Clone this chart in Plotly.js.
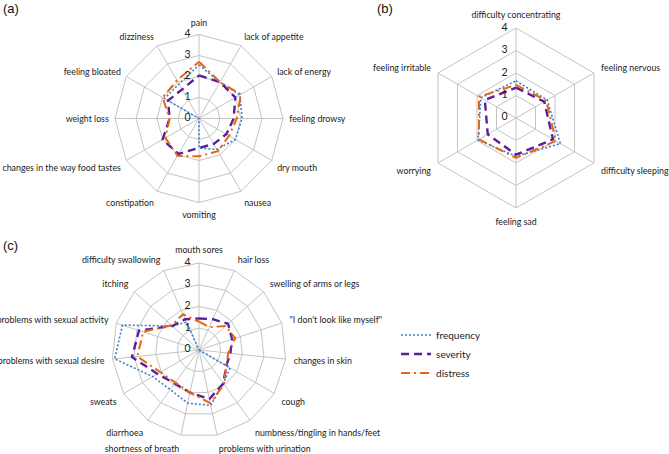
<!DOCTYPE html>
<html>
<head>
<meta charset="utf-8">
<script src="https://cdn.plot.ly/plotly-3.0.1.min.js"></script>
<style>html,body{margin:0;padding:0;background:#fff;}#chart{width:669px;height:454px;}</style>
</head>
<body>
<div id="chart"></div>
<script>
// ---- data ----
const seriesNames = ["frequency", "severity", "distress"];

const catA = ["pain", "lack of appetite", "lack of energy", "feeling drowsy", "dry mouth", "nausea",
  "vomiting", "constipation", "changes in the way food tastes", "weight loss", "feeling bloated", "dizziness"];
const freqA = [2.55, 2.0, 2.25, 2.05, 2.0, 1.7, 1.4, 0, 0, 0, 1.9, 1.9];
const sevA  = [2.05, 2.0, 2.0, 1.65, 1.5, 1.4, 1.4, 1.95, 2.0, 1.4, 1.7, 1.6];
const distA = [2.7, 2.0, 2.3, 1.8, 1.65, 1.8, 1.8, 2.05, 1.85, 1.4, 2.0, 2.1];

const catB = ["difficulty concentrating", "feeling nervous", "difficulty sleeping", "feeling sad", "worrying", "feeling irritable"];
const freqB = [1.65, 1.6, 2.28, 1.7, 1.95, 1.8];
const sevB  = [1.35, 1.45, 1.9, 1.63, 1.45, 1.6];
const distB = [1.47, 1.55, 2.05, 1.77, 1.9, 1.9];

const catC = ["mouth sores", "hair loss", "swelling of arms or legs", "\"I don't look like myself\"", "changes in skin",
  "cough", "numbness/tingling in hands/feet", "problems with urination", "shortness of breath", "diarrhoea",
  "sweats", "problems with sexual desire", "problems with sexual activity", "itching", "difficulty swallowing"];
const freqC = [0, 0, 0, 0, 0, 1.65, 1.9, 2.6, 2.5, 2.25, 2.45, 3.9, 3.7, 1.65, 1.4];
const sevC  = [1.45, 1.55, 1.8, 1.6, 1.45, 1.45, 1.9, 2.3, 2.0, 1.9, 2.2, 3.1, 2.9, 1.65, 1.55];
const distC = [1.3, 1.15, 1.65, 1.75, 1.35, 1.45, 1.95, 2.5, 2.0, 1.85, 2.05, 2.85, 2.7, 1.7, 1.8];

const radialTicks = [0, 1, 2, 3, 4];
const panelLabels = ["(a)", "(b)", "(c)"];

// ---- styles ----
const styles = [
  {color: "#3d7dcc", width: 1.6, dash: "2px,2px"},
  {color: "#5a1f9a", width: 2.4, dash: "8px,5px"},
  {color: "#e8650f", width: 2.0, dash: "9px,4px,2px,4px"}
];
const FONT = "Lato, 'Liberation Sans', sans-serif";

function closed(a) { return a.concat([a[0]]); }

const panels = [
  {cats: catA, vals: [freqA, sevA, distA], polar: "polar"},
  {cats: catB, vals: [freqB, sevB, distB], polar: "polar2"},
  {cats: catC, vals: [freqC, sevC, distC], polar: "polar3"}
];

const traces = [];
panels.forEach((p, pi) => {
  p.vals.forEach((v, si) => {
    traces.push({
      type: "scatterpolar",
      mode: "lines",
      r: closed(v),
      theta: closed(p.cats),
      subplot: p.polar,
      name: seriesNames[si],
      legendgroup: seriesNames[si],
      showlegend: pi === 2,
      line: {color: styles[si].color, width: styles[si].width, dash: styles[si].dash},
      hoverinfo: "skip"
    });
  });
  // radial tick labels, placed by the polar scale left of the first spoke
  // (a point exactly at r = 0 is dropped by Plotly's polygon test, so nudge it by a hair)
  traces.push({
    type: "scatterpolar",
    mode: "markers+text",
    r: radialTicks.map(t => Math.max(t, 0.01)),
    theta: radialTicks.map(() => p.cats[0]),
    text: radialTicks.map(String),
    textposition: "middle left",
    marker: {size: 12, color: "rgba(0,0,0,0)"},
    textfont: {family: FONT, size: 10.5, color: "#222"},
    subplot: p.polar,
    cliponaxis: false,
    showlegend: false,
    hoverinfo: "skip"
  });
});

function polarCfg(dx, dy, cats, tl) {
  return {
    domain: {x: dx, y: dy},
    gridshape: "linear",
    bgcolor: "#ffffff",
    radialaxis: {
      range: [0, 4], tickvals: radialTicks, showticklabels: false,
      angle: 90, showline: false, ticks: "",
      gridcolor: "#c4c4c4", gridwidth: 1
    },
    angularaxis: {
      type: "category", categoryarray: cats, direction: "clockwise", rotation: 90,
      showline: true, linecolor: "#c4c4c4", linewidth: 1,
      gridcolor: "#c4c4c4", gridwidth: 1,
      ticks: "outside", ticklen: tl, tickcolor: "rgba(0,0,0,0)",
      tickfont: {family: FONT, size: 8.8, color: "#222"}
    }
  };
}

const W = 669, H = 454;
function dom(cx, cy, R) {
  return [[(cx - R) / W, (cx + R) / W], [1 - (cy + R) / H, 1 - (cy - R) / H]];
}
const dA = dom(199, 118.5, 84), dB = dom(516, 118, 90), dC = dom(199, 350, 87);

const layout = {
  width: W, height: H,
  margin: {l: 0, r: 0, t: 0, b: 0},
  paper_bgcolor: "#ffffff",
  showlegend: true,
  legend: {
    x: 0.592, xanchor: "left", y: 1 - 354 / H, yanchor: "middle",
    font: {family: FONT, size: 10, color: "#222"},
    bgcolor: "rgba(0,0,0,0)", traceorder: "normal"
  },
  polar: polarCfg(dA[0], dA[1], catA, 4),
  polar2: polarCfg(dB[0], dB[1], catB, 6),
  polar3: polarCfg(dC[0], dC[1], catC, 6),
  annotations: [
    {text: panelLabels[0], x: 1 / W, y: 1 - 8 / H},
    {text: panelLabels[1], x: 375 / W, y: 1 - 8 / H},
    {text: panelLabels[2], x: 1 / W, y: 1 - 245 / H}
  ].map(a => Object.assign({xref: "paper", yref: "paper", xanchor: "left", yanchor: "middle",
    showarrow: false, font: {family: "'Liberation Sans', Arial, sans-serif", size: 13, color: "#111"}}, a))
};

Plotly.newPlot("chart", traces, layout, {staticPlot: true, displayModeBar: false});
</script>
</body>
</html>
